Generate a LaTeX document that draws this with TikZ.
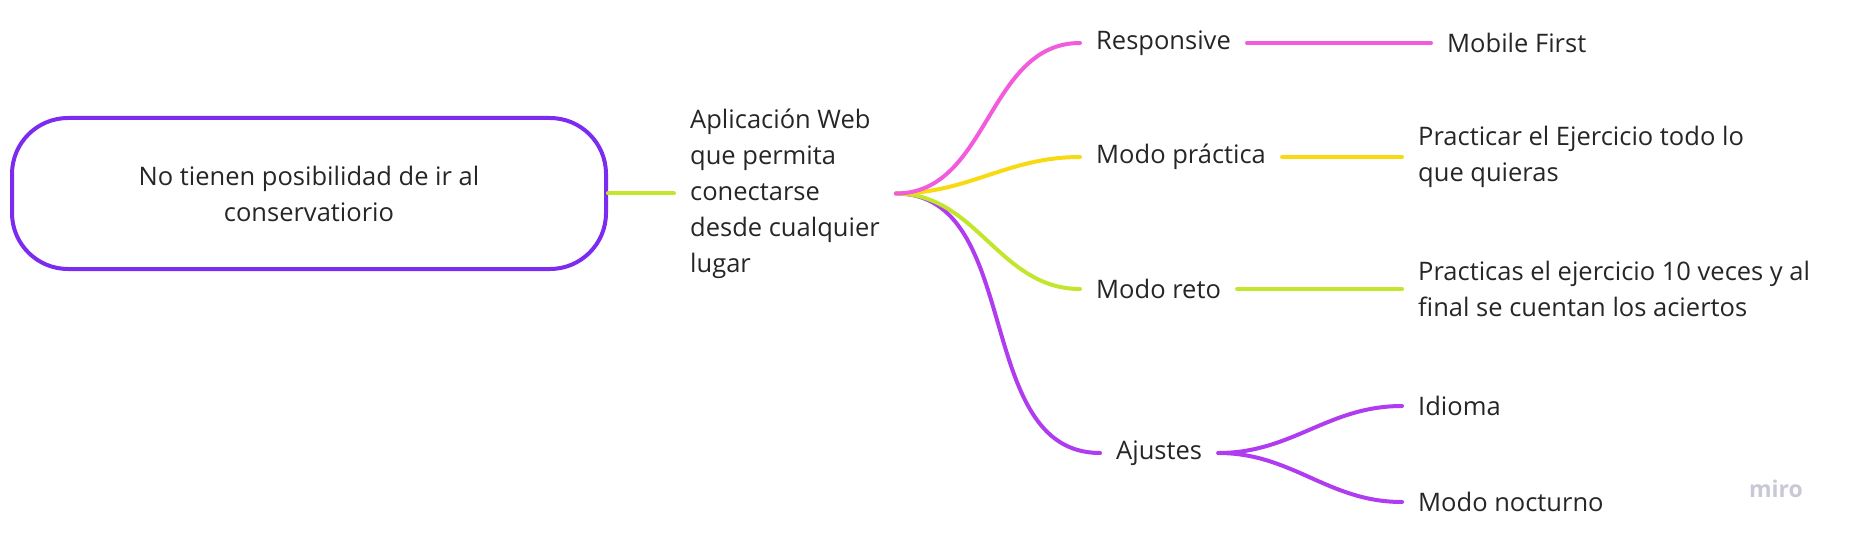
\documentclass[tikz,border=0pt]{standalone}
\usepackage{fontspec}
\setmainfont{Open Sans}
\usepackage{xcolor}
\definecolor{rootpurple}{HTML}{7B2CF0}
\definecolor{pinkline}{HTML}{F25CDC}
\definecolor{yellowline}{HTML}{F8DA12}
\definecolor{limeline}{HTML}{C2E62E}
\definecolor{purpleline}{HTML}{B03CF0}
\definecolor{logogray}{HTML}{C8C8D6}

\begin{document}
\begin{tikzpicture}[x=1pt, y=-1pt,
  every node/.style={font=\fontsize{25.5}{36}\selectfont, text=black!85, align=left, inner xsep=16pt, inner ysep=4pt},
  leaf/.style={anchor=west},
  branch/.style={line width=4pt, line cap=round}]

  \useasboundingbox (0,0) rectangle (1849,540);

  % Root box
  \node (root) [draw=rootpurple, line width=4pt, rounded corners=56pt, minimum width=594pt, minimum height=151pt, align=center] at (309,193.5) {No tienen posibilidad de ir al\\conservatiorio};

  % Main idea
  \node (app) [leaf] at (674,193.5) {Aplicación Web\\que permita\\conectarse\\desde cualquier\\lugar};

  % First level
  \node (resp) [leaf] at (1080,43) {Responsive};
  \node (prac) [leaf] at (1080,157) {Modo práctica};
  \node (reto) [leaf] at (1080,289) {Modo reto};
  \node (ajustes) [leaf] at (1100,453) {Ajustes};

  % Second level
  \node (mobile) [leaf] at (1431,43) {Mobile First};
  \node (practicar) [leaf] at (1402,157) {Practicar el Ejercicio todo lo\\que quieras};
  \node (practicas) [leaf] at (1402,289) {Practicas el ejercicio 10 veces y al\\final se cuentan los aciertos};
  \node (idioma) [leaf] at (1402,406) {Idioma};
  \node (nocturno) [leaf] at (1402,502) {Modo nocturno};

  % Watermark
  \node (logo) [font=\bfseries\fontsize{23}{23}\selectfont, text=logogray] at (1776,489) {miro};

  % Connectors
  \draw[branch, limeline] (root.east) -- (app.west);
  \draw[branch, purpleline] (app.east) to[out=0, in=180] (ajustes.west);
  \draw[branch, limeline] (app.east) to[out=0, in=180] (reto.west);
  \draw[branch, yellowline] (app.east) to[out=0, in=180] (prac.west);
  \draw[branch, pinkline] (app.east) to[out=0, in=180] (resp.west);

  \draw[branch, pinkline] (resp) -- (mobile);
  \draw[branch, yellowline] (prac) -- (practicar);
  \draw[branch, limeline] (reto) -- (practicas);
  \draw[branch, purpleline] (ajustes.east) to[out=0, in=180] (idioma.west);
  \draw[branch, purpleline] (ajustes.east) to[out=0, in=180] (nocturno.west);

\end{tikzpicture}
\end{document}
